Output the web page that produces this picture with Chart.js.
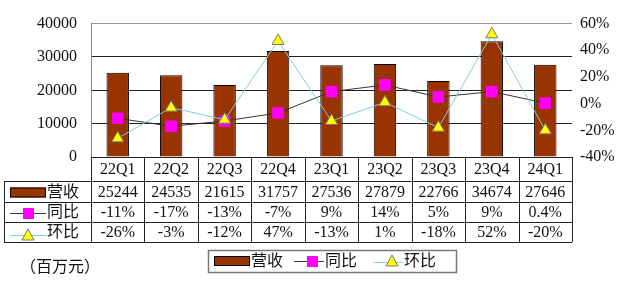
<!DOCTYPE html>
<html lang="zh">
<head>
<meta charset="UTF-8">
<title>营收</title>
<script src="https://cdn.jsdelivr.net/npm/chart.js"></script>
<style>
    body { margin: 0; padding: 0; background: #fff; }
    #wrap { width: 625px; height: 289px; }
</style>
</head>
<body>
<div id="wrap"><canvas id="grafica"></canvas></div>
<script>
    const categorias = ['22Q1', '22Q2', '22Q3', '22Q4', '23Q1', '23Q2', '23Q3', '23Q4', '24Q1'];
    const ingresos = [25244, 24535, 21615, 31757, 27536, 27879, 22766, 34674, 27646];
    const interanual = [-11, -17, -13, -7, 9, 14, 5, 9, 0.4];
    const trimestral = [-26, -3, -12, 47, -13, 1, -18, 52, -20];
    const interanualTxt = ['-11%', '-17%', '-13%', '-7%', '9%', '14%', '5%', '9%', '0.4%'];
    const trimestralTxt = ['-26%', '-3%', '-12%', '47%', '-13%', '1%', '-18%', '52%', '-20%'];
    const nombres = ['营收', '同比', '环比'];
    const unidad = '（百万元）';

    const FUENTE = '16px "Liberation Serif", "Noto Sans CJK SC", serif';
    const ROJO = '#993300';
    const MAGENTA = '#ff00ff';
    const CIAN = '#7fcfd8';
    const AMARILLO = '#ffff00';

    function marcaCuadro(ctx, x, y) {
        ctx.fillStyle = MAGENTA;
        ctx.fillRect(x - 5, y - 5, 11, 11);
    }

    function marcaTriangulo(ctx, x, y) {
        ctx.beginPath();
        ctx.moveTo(x, y - 6);
        ctx.lineTo(x + 6, y + 5);
        ctx.lineTo(x - 6, y + 5);
        ctx.closePath();
        ctx.fillStyle = AMARILLO;
        ctx.fill();
        ctx.strokeStyle = '#777';
        ctx.lineWidth = 1;
        ctx.stroke();
    }

    function linea(ctx, x1, x2, y, color) {
        ctx.beginPath();
        ctx.moveTo(x1, y + 0.5);
        ctx.lineTo(x2, y + 0.5);
        ctx.strokeStyle = color;
        ctx.lineWidth = 1;
        ctx.stroke();
    }

    const tablaPlugin = {
        id: 'tabla',
        afterDraw(chart) {
            const ctx = chart.ctx;
            const area = chart.chartArea;
            const xs = chart.scales.x;
            const ancho = (area.right - area.left) / categorias.length;
            const izq = 4;
            const filas = [area.bottom, area.bottom + 24, area.bottom + 45, area.bottom + 65, area.bottom + 85];

            ctx.save();
            ctx.strokeStyle = '#222';
            ctx.lineWidth = 1;
            ctx.beginPath();
            ctx.moveTo(area.left, Math.round(filas[0]) + 0.5);
            ctx.lineTo(area.right, Math.round(filas[0]) + 0.5);
            for (let r = 1; r < filas.length; r++) {
                ctx.moveTo(izq, Math.round(filas[r]) + 0.5);
                ctx.lineTo(area.right, Math.round(filas[r]) + 0.5);
            }
            ctx.moveTo(izq + 0.5, filas[1]);
            ctx.lineTo(izq + 0.5, filas[4]);
            for (let k = 0; k <= categorias.length; k++) {
                const x = Math.round(area.left + k * ancho) + 0.5;
                ctx.moveTo(x, filas[0]);
                ctx.lineTo(x, filas[4]);
            }
            ctx.stroke();

            ctx.font = FUENTE;
            ctx.fillStyle = '#111';
            ctx.textAlign = 'center';
            ctx.textBaseline = 'middle';
            const columnas = [categorias, ingresos.map(String), interanualTxt, trimestralTxt];
            columnas.forEach((fila, r) => {
                const y = (filas[r] + filas[r + 1]) / 2 + 1;
                fila.forEach((txt, i) => {
                    ctx.fillText(txt, xs.getPixelForValue(i), y);
                });
            });

            // leyenda en la primera columna
            const yR = [(filas[1] + filas[2]) / 2, (filas[2] + filas[3]) / 2, (filas[3] + filas[4]) / 2];
            ctx.fillStyle = ROJO;
            ctx.fillRect(10, yR[0] - 4, 36, 10);
            ctx.strokeStyle = '#000';
            ctx.strokeRect(10.5, yR[0] - 3.5, 35, 9);
            linea(ctx, 10, 46, Math.round(yR[1]) + 1, '#333');
            marcaCuadro(ctx, 28, yR[1] + 1);
            linea(ctx, 10, 46, Math.round(yR[2]) + 3, CIAN);
            marcaTriangulo(ctx, 28, yR[2] + 3);
            ctx.fillStyle = '#111';
            ctx.textAlign = 'left';
            nombres.forEach((n, r) => ctx.fillText(n, 47, yR[r] + 1));

            // unidad
            ctx.fillText(unidad, 20, 268);

            // leyenda inferior
            ctx.strokeStyle = '#777';
            ctx.lineWidth = 1.5;
            ctx.strokeRect(208.5, 250.5, 248, 22);
            ctx.lineWidth = 1;
            ctx.fillStyle = ROJO;
            ctx.fillRect(214, 256, 36, 10);
            ctx.strokeStyle = '#000';
            ctx.strokeRect(214.5, 256.5, 35, 9);
            linea(ctx, 294, 324, 261, '#333');
            marcaCuadro(ctx, 312, 261);
            linea(ctx, 374, 403, 262, CIAN);
            marcaTriangulo(ctx, 392, 261);
            ctx.fillStyle = '#111';
            ctx.fillText(nombres[0], 251, 262);
            ctx.fillText(nombres[1], 325, 262);
            ctx.fillText(nombres[2], 404, 262);
            ctx.restore();
        }
    };

    new Chart(document.getElementById('grafica'), {
        type: 'bar',
        data: {
            labels: categorias,
            datasets: [
                {
                    type: 'line',
                    label: nombres[2],
                    data: trimestral,
                    yAxisID: 'y1',
                    borderColor: CIAN,
                    borderWidth: 1,
                    pointStyle: 'triangle',
                    pointRadius: 7,
                    pointBackgroundColor: AMARILLO,
                    pointBorderColor: '#777',
                    pointBorderWidth: 1,
                    order: 0
                },
                {
                    type: 'line',
                    label: nombres[1],
                    data: interanual,
                    yAxisID: 'y1',
                    borderColor: '#333',
                    borderWidth: 1,
                    pointStyle: 'rect',
                    pointRadius: 7.5,
                    pointBackgroundColor: MAGENTA,
                    pointBorderColor: MAGENTA,
                    pointBorderWidth: 1,
                    order: 1
                },
                {
                    label: nombres[0],
                    data: ingresos,
                    yAxisID: 'y',
                    backgroundColor: ROJO,
                    borderColor: '#000',
                    borderWidth: 1,
                    categoryPercentage: 1,
                    barPercentage: 0.42,
                    order: 2
                }
            ]
        },
        options: {
            responsive: true,
            maintainAspectRatio: false,
            animation: false,
            layout: { padding: { top: 15, bottom: 132, left: 0, right: 0 } },
            plugins: {
                legend: { display: false },
                tooltip: { enabled: false }
            },
            scales: {
                x: { display: false },
                y: {
                    position: 'left',
                    min: 0,
                    max: 40000,
                    ticks: {
                        stepSize: 10000,
                        padding: 14,
                        color: '#111',
                        font: { family: '"Liberation Serif", serif', size: 16 },
                        callback: v => String(v)
                    },
                    grid: {
                        drawTicks: false,
                        color: ctx => ctx.tick && ctx.tick.value === 40000 ? '#999' : '#222',
                        lineWidth: 1
                    },
                    border: { display: true, color: '#888' },
                    afterFit: s => { s.width = 91; }
                },
                y1: {
                    position: 'right',
                    min: -40,
                    max: 60,
                    ticks: {
                        stepSize: 20,
                        padding: 8,
                        color: '#111',
                        font: { family: '"Liberation Serif", serif', size: 16 },
                        callback: v => v + '%'
                    },
                    grid: { display: false, drawTicks: false },
                    border: { display: false },
                    afterFit: s => { s.width = 53; }
                }
            }
        },
        plugins: [tablaPlugin]
    });
</script>
</body>
</html>
